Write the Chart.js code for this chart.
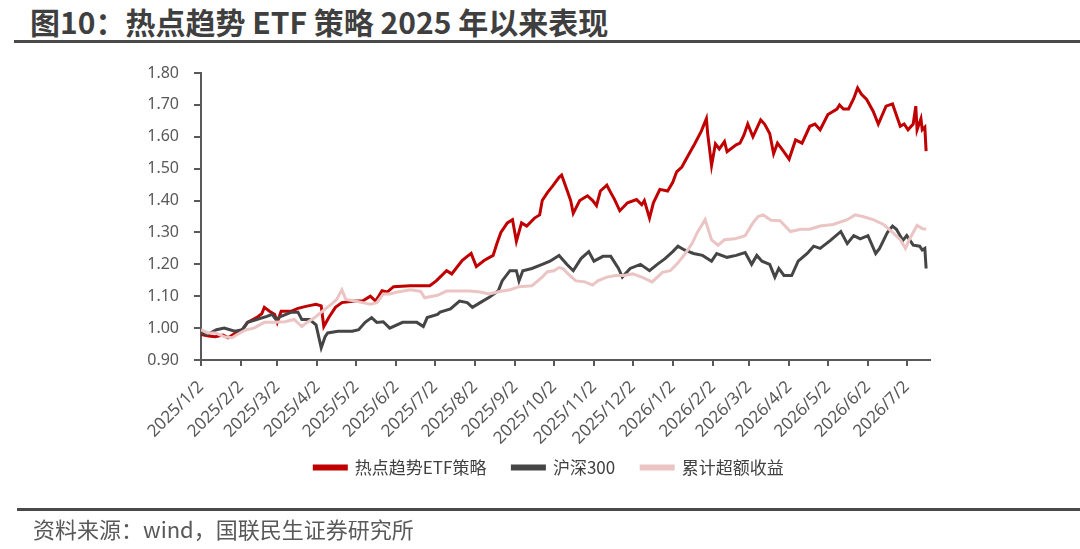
<!DOCTYPE html>
<html>
<head>
<meta charset="utf-8">
<script src="https://cdn.jsdelivr.net/npm/chart.js@4.4.1/dist/chart.umd.min.js"></script>
<style>
    html, body { margin: 0; padding: 0; background: #ffffff; }
    body { width: 1080px; height: 549px; position: relative; overflow: hidden; font-family: "Noto Sans CJK SC", "Noto Sans", sans-serif; }
    #title { position: absolute; left: 30px; top: 1px; font-size: 30px; font-weight: 700; color: #3f3f3f; white-space: nowrap; line-height: 40px; }
    .rule { position: absolute; height: 3px; background: #4a4a4a; }
    #source { position: absolute; left: 33px; top: 513px; font-size: 22px; color: #595959; white-space: nowrap; line-height: 30px; }
    #chart { position: absolute; left: 0; top: 0; }
</style>
</head>
<body>
<div id="title">图10：热点趋势 ETF 策略 2025 年以来表现</div>
<div class="rule" style="left:14px; top:40px; width:1066px;"></div>
<canvas id="chart" width="1080" height="549"></canvas>
<div class="rule" style="left:17px; top:508px; width:1063px;"></div>
<div id="source">资料来源：wind，国联民生证券研究所</div>

<script>
// x values are calendar days counted from 2025/1/2
const monthTickDays = [0, 31, 59, 90, 120, 151, 181, 212, 243, 273, 304, 334, 365, 396, 424, 455, 485, 516, 546];
const monthTickLabels = ["2025/1/2", "2025/2/2", "2025/3/2", "2025/4/2", "2025/5/2", "2025/6/2", "2025/7/2",
    "2025/8/2", "2025/9/2", "2025/10/2", "2025/11/2", "2025/12/2", "2026/1/2", "2026/2/2", "2026/3/2",
    "2026/4/2", "2026/5/2", "2026/6/2", "2026/7/2"];

// 热点趋势ETF策略
const strategyDays = [0, 6, 11, 17, 21, 27, 32, 36, 43, 47, 49, 53, 57, 59, 62, 70, 75, 82, 89, 93, 95, 99, 104, 109,
    119, 125, 131, 135, 137, 140, 144, 149, 162, 177, 182, 190, 194, 202, 206, 209, 213, 219, 226, 229, 232, 237,
    241, 244, 248, 252, 258, 262, 264, 268, 272, 277, 279, 283, 286, 288, 293, 299, 303, 306, 309, 314, 317, 320,
    324, 330, 337, 341, 343, 347, 350, 355, 361, 365, 368, 372, 377, 382, 387, 391, 392, 395, 398, 401, 405, 407,
    414, 417, 420, 423, 427, 433, 436, 440, 443, 446, 451, 455, 460, 465, 471, 475, 479, 485, 492, 494, 497, 501,
    505, 508, 511, 515, 520, 524, 530, 535, 541, 544, 547, 551, 553, 554, 557, 558, 560, 561];
const strategyValues = [0.98, 0.975, 0.973, 0.978, 0.97, 0.985, 0.995, 1.018, 1.033, 1.045, 1.065, 1.053, 1.043, 1.018,
    1.053, 1.053, 1.062, 1.069, 1.075, 1.07, 1.005, 1.034, 1.065, 1.08, 1.085, 1.085, 1.10, 1.085, 1.097, 1.117,
    1.113, 1.13, 1.133, 1.133, 1.148, 1.18, 1.17, 1.212, 1.225, 1.234, 1.193, 1.212, 1.228, 1.266, 1.30, 1.33,
    1.34, 1.272, 1.33, 1.32, 1.345, 1.355, 1.40, 1.425, 1.445, 1.473, 1.48, 1.435, 1.40, 1.36, 1.40, 1.415, 1.40,
    1.384, 1.43, 1.448, 1.425, 1.403, 1.368, 1.393, 1.403, 1.387, 1.40, 1.345, 1.393, 1.435, 1.43, 1.457, 1.49,
    1.505, 1.542, 1.578, 1.617, 1.657, 1.61, 1.51, 1.578, 1.562, 1.585, 1.553, 1.575, 1.58, 1.605, 1.64, 1.60,
    1.653, 1.64, 1.61, 1.547, 1.58, 1.553, 1.53, 1.59, 1.58, 1.633, 1.64, 1.622, 1.67, 1.687, 1.70, 1.687, 1.687,
    1.72, 1.753, 1.733, 1.717, 1.68, 1.64, 1.696, 1.703, 1.633, 1.64, 1.622, 1.64, 1.696, 1.622, 1.657, 1.622,
    1.63, 1.555];

// 沪深300
const hs300Days = [0, 5, 12, 18, 26, 32, 36, 43, 51, 55, 58, 62, 70, 75, 78, 84, 89, 93, 96, 98, 106, 117, 122, 127,
    132, 136, 141, 146, 156, 167, 172, 175, 183, 185, 193, 200, 206, 210, 216, 223, 230, 233, 239, 244, 246, 249,
    256, 264, 270, 277, 283, 288, 294, 300, 304, 311, 317, 323, 326, 332, 340, 347, 353, 359, 365, 369, 374, 381,
    388, 395, 399, 407, 414, 421, 426, 430, 434, 440, 444, 447, 451, 457, 462, 469, 474, 479, 487, 495, 500, 505,
    510, 516, 522, 525, 531, 535, 538, 543, 546, 551, 556, 558, 560, 561];
const hs300Values = [0.985, 0.98, 0.995, 1.00, 0.99, 0.995, 1.018, 1.027, 1.037, 1.043, 1.027, 1.037, 1.05, 1.05,
    1.027, 1.027, 1.01, 0.938, 0.973, 0.985, 0.99, 0.99, 0.995, 1.018, 1.033, 1.018, 1.02, 1.00, 1.018, 1.018,
    1.005, 1.033, 1.043, 1.05, 1.06, 1.085, 1.08, 1.065, 1.08, 1.097, 1.117, 1.148, 1.18, 1.18, 1.148, 1.18,
    1.187, 1.20, 1.21, 1.228, 1.20, 1.18, 1.218, 1.24, 1.21, 1.225, 1.225, 1.187, 1.16, 1.187, 1.20, 1.18, 1.20,
    1.218, 1.24, 1.257, 1.245, 1.234, 1.228, 1.21, 1.234, 1.222, 1.228, 1.237, 1.20, 1.228, 1.21, 1.20, 1.16,
    1.187, 1.165, 1.165, 1.21, 1.234, 1.257, 1.25, 1.275, 1.303, 1.265, 1.29, 1.28, 1.29, 1.234, 1.25, 1.30,
    1.32, 1.31, 1.275, 1.29, 1.26, 1.257, 1.245, 1.25, 1.187];

// 累计超额收益
const excessDays = [0, 5, 11, 18, 24, 28, 35, 41, 49, 57, 65, 72, 78, 82, 88, 96, 101, 105, 109, 112, 119, 125, 131,
    136, 141, 146, 152, 162, 170, 173, 183, 190, 200, 208, 216, 223, 231, 239, 246, 256, 264, 268, 273, 277, 280,
    284, 290, 297, 303, 307, 314, 321, 327, 334, 341, 349, 357, 363, 368, 374, 380, 384, 390, 392, 395, 400, 405,
    413, 421, 427, 431, 435, 441, 448, 456, 464, 471, 479, 489, 500, 506, 512, 520, 528, 535, 541, 545, 548, 554,
    558, 561];
const excessValues = [0.995, 0.985, 0.985, 0.973, 0.97, 0.98, 0.995, 1.00, 1.018, 1.018, 1.02, 1.027, 1.005, 1.018,
    1.033, 1.06, 1.075, 1.09, 1.12, 1.09, 1.085, 1.08, 1.075, 1.08, 1.107, 1.107, 1.113, 1.12, 1.115, 1.095, 1.103,
    1.116, 1.116, 1.116, 1.113, 1.107, 1.115, 1.12, 1.13, 1.133, 1.16, 1.177, 1.18, 1.19, 1.187, 1.17, 1.148,
    1.145, 1.135, 1.148, 1.16, 1.165, 1.165, 1.17, 1.16, 1.145, 1.175, 1.18, 1.20, 1.23, 1.266, 1.30, 1.34, 1.315,
    1.277, 1.26, 1.277, 1.28, 1.29, 1.33, 1.35, 1.355, 1.338, 1.337, 1.303, 1.31, 1.31, 1.32, 1.325, 1.34, 1.355,
    1.35, 1.34, 1.325, 1.30, 1.277, 1.25, 1.278, 1.322, 1.312, 1.31];

const axisColor = "#595959";
const textColor = "#595959";

// pair up day/value arrays for a linear x scale
function toPoints(days, values) {
    return days.map((d, i) => ({ x: d, y: values[i] }));
}

function lineSet(label, days, values, color, order) {
    return {
        label: label,
        data: toPoints(days, values),
        borderColor: color,
        backgroundColor: color,
        borderWidth: 3,
        pointRadius: 0,
        tension: 0,
        order: order,
        yAxisID: "y",
    };
}

// pull the legend row up closer to the rotated date labels
const legendShift = {
    id: "legendShift",
    afterLayout(chart) {
        const lg = chart.legend;
        if (lg) {
            lg.top -= 19;
            lg.bottom -= 19;
        }
    },
};

const ctx = document.getElementById("chart").getContext("2d");
new Chart(ctx, {
    type: "line",
    data: {
        datasets: [
            lineSet("热点趋势ETF策略", strategyDays, strategyValues, "#C00000", 3),
            lineSet("沪深300", hs300Days, hs300Values, "#454545", 2),
            lineSet("累计超额收益", excessDays, excessValues, "#EBC4C4", 1),
        ],
    },
    plugins: [legendShift],
    options: {
        responsive: false,
        animation: false,
        devicePixelRatio: 1,
        layout: { padding: { left: 140, right: 122, top: 73, bottom: 44 } },
        plugins: {
            tooltip: { enabled: false },
            legend: {
                position: "bottom",
                labels: {
                    boxWidth: 32,
                    boxHeight: 3,
                    padding: 26,
                    color: "#404040",
                    font: { family: "'Noto Sans CJK SC', sans-serif", size: 17 },
                    sort: (a, b) => a.datasetIndex - b.datasetIndex,
                },
            },
        },
        scales: {
            x: {
                type: "linear",
                min: 0,
                max: 564,
                afterBuildTicks: (scale) => {
                    scale.ticks = monthTickDays.map((d) => ({ value: d }));
                },
                afterFit: (scale) => {
                    scale.height = 92;
                },
                ticks: {
                    autoSkip: false,
                    minRotation: 45,
                    maxRotation: 45,
                    padding: 11,
                    color: textColor,
                    font: { family: "'Noto Sans', sans-serif", size: 17 },
                    callback: (value, index) => monthTickLabels[index],
                },
                grid: {
                    drawOnChartArea: false,
                    drawTicks: true,
                    tickLength: 6,
                    color: axisColor,
                    lineWidth: 2,
                },
                border: { color: axisColor, width: 2 },
            },
            y: {
                min: 0.9,
                max: 1.8,
                afterFit: (scale) => {
                    scale.width = 61;
                },
                ticks: {
                    stepSize: 0.1,
                    padding: 15,
                    color: textColor,
                    font: { family: "'Noto Sans', sans-serif", size: 16 },
                    callback: (value) => value.toFixed(2),
                },
                grid: {
                    drawOnChartArea: false,
                    drawTicks: true,
                    tickLength: 7,
                    color: axisColor,
                    lineWidth: 2,
                },
                border: { color: axisColor, width: 2 },
            },
            // empty spacer on the right so the legend centres like the original
            yPad: {
                type: "linear",
                position: "right",
                afterFit: (scale) => {
                    scale.width = 28;
                },
                ticks: { display: false },
                grid: { display: false },
                border: { display: false },
            },
        },
    },
});
</script>
</body>
</html>
